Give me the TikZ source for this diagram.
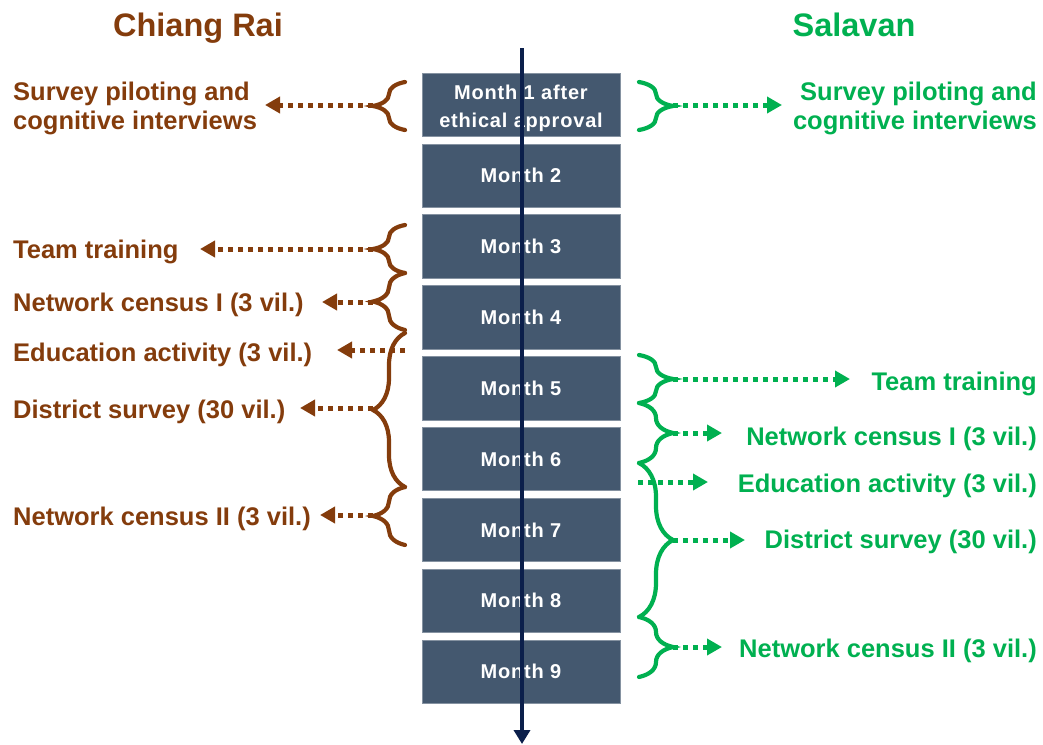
\documentclass[tikz,border=0pt]{standalone}
\usepackage{fontspec}
\setmainfont{Liberation Sans}
\newfontfamily\monthfont[LetterSpace=4]{Liberation Sans}
\usetikzlibrary{arrows.meta,decorations.pathreplacing}
\definecolor{crbrown}{HTML}{843C0C}
\definecolor{svgreen}{HTML}{00B050}
\definecolor{boxblue}{HTML}{44586F}
\definecolor{navyline}{HTML}{0B1F4B}
\begin{document}
\begin{tikzpicture}[x=1pt,y=-1pt,
  mbox/.style={fill=boxblue, draw=boxblue!65!white, line width=0.6pt, minimum width=198pt, minimum height=63.5pt, inner sep=0pt, text=white, font=\monthfont\fontsize{20}{28}\selectfont\bfseries, align=center},
  lbl/.style={font=\fontsize{25.5}{29}\selectfont\bfseries, inner sep=0pt},
  ttl/.style={font=\fontsize{32.5}{36}\selectfont\bfseries, inner sep=0pt},
  bracebr/.style={draw=crbrown, line width=4.2pt, line cap=round, decorate, decoration={brace, amplitude=32pt}},
  bracegr/.style={draw=svgreen, line width=4.2pt, line cap=round, decorate, decoration={brace, amplitude=34pt}},
  dotbr/.style={draw=crbrown, line width=5pt, dash pattern=on 5pt off 5pt, -{Triangle[length=15pt,width=16pt]}},
  dotgr/.style={draw=svgreen, line width=5pt, dash pattern=on 5pt off 5pt, -{Triangle[length=15pt,width=16pt]}}
]
\useasboundingbox (0,0) rectangle (1043,744);

% titles
\node[ttl, text=crbrown, anchor=base] (tcr) at (198,36) {Chiang Rai};
\node[ttl, text=svgreen, anchor=base] (tsv) at (854,36) {Salavan};

% month boxes
\node[mbox] (m1) at (521,104.75) {\rule{0pt}{21.5pt}Month 1 after\\ethical approval};
\node[mbox] (m2) at (521,175.6) {Month 2};
\node[mbox] (m3) at (521,246.45) {Month 3};
\node[mbox] (m4) at (521,317.3) {Month 4};
\node[mbox] (m5) at (521,388.15) {Month 5};
\node[mbox] (m6) at (521,459) {Month 6};
\node[mbox] (m7) at (521,529.85) {Month 7};
\node[mbox] (m8) at (521,600.7) {Month 8};
\node[mbox] (m9) at (521,671.55) {Month 9};

% time arrow
\coordinate (vtop) at (522,48);
\coordinate (vbot) at (522,744);
\draw[navyline, line width=4pt, -{Triangle[length=14pt,width=16pt]}] (vtop) -- (vbot);

% ---------- Chiang Rai (left) ----------
\node[lbl, text=crbrown, anchor=west, align=left] (lp) at (13,108) {Survey piloting and\\cognitive interviews};
\node[lbl, text=crbrown, anchor=base west] (lt) at (13,258) {Team training};
\node[lbl, text=crbrown, anchor=base west] (ln1) at (13,311) {Network census I (3 vil.)};
\node[lbl, text=crbrown, anchor=base west] (le) at (13,361) {Education activity (3 vil.)};
\node[lbl, text=crbrown, anchor=base west] (ld) at (13,418) {District survey (30 vil.)};
\node[lbl, text=crbrown, anchor=base west] (ln2) at (13,525) {Network census II (3 vil.)};

\draw[bracebr] (405,130) -- (405,82);
\draw[bracebr] (405,273) -- (405,225);
\draw[bracebr] (405,330) -- (405,273);
\draw[bracebr] (405,487) -- (405,333);
\draw[bracebr] (405,545) -- (405,487);

\coordinate (bp) at (373,105);
\coordinate (bt) at (373,249);
\coordinate (bn1) at (373,302);
\coordinate (be) at (405,350);
\coordinate (bd) at (373,408);
\coordinate (bn2) at (373,515);

\coordinate (ap) at (265,105);
\coordinate (at) at (200,249);
\coordinate (an1) at (322,302);
\coordinate (ae) at (337,350);
\coordinate (ad) at (300,408);
\coordinate (an2) at (320,515);

\draw[dotbr] (bp) -- (ap);
\draw[dotbr] (bt) -- (at);
\draw[dotbr] (bn1) -- (an1);
\draw[dotbr] (be) -- (ae);
\draw[dotbr] (bd) -- (ad);
\draw[dotbr] (bn2) -- (an2);

% ---------- Salavan (right) ----------
\node[lbl, text=svgreen, anchor=east, align=right] (rp) at (1037,108) {Survey piloting and\\cognitive interviews};
\node[lbl, text=svgreen, anchor=base east] (rt) at (1037,390) {Team training};
\node[lbl, text=svgreen, anchor=base east] (rn1) at (1037,445) {Network census I (3 vil.)};
\node[lbl, text=svgreen, anchor=base east] (re) at (1037,492) {Education activity (3 vil.)};
\node[lbl, text=svgreen, anchor=base east] (rd) at (1037,548) {District survey (30 vil.)};
\node[lbl, text=svgreen, anchor=base east] (rn2) at (1037,657) {Network census II (3 vil.)};

\draw[bracegr] (639,82) -- (639,130);
\draw[bracegr] (639,355) -- (639,403);
\draw[bracegr] (639,403) -- (639,463);
\draw[bracegr] (639,463) -- (639,617);
\draw[bracegr] (639,617) -- (639,677);

\coordinate (cp) at (673,105);
\coordinate (ct) at (673,379);
\coordinate (cn1) at (673,433);
\coordinate (ce) at (638,482);
\coordinate (cd) at (673,540);
\coordinate (cn2) at (673,647);

\coordinate (dp) at (782,105);
\coordinate (dt) at (850,379);
\coordinate (dn1) at (722,433);
\coordinate (de) at (708,482);
\coordinate (dd) at (745,540);
\coordinate (dn2) at (722,647);

\draw[dotgr] (cp) -- (dp);
\draw[dotgr] (ct) -- (dt);
\draw[dotgr] (cn1) -- (dn1);
\draw[dotgr] (ce) -- (de);
\draw[dotgr] (cd) -- (dd);
\draw[dotgr] (cn2) -- (dn2);
\end{tikzpicture}
\end{document}
